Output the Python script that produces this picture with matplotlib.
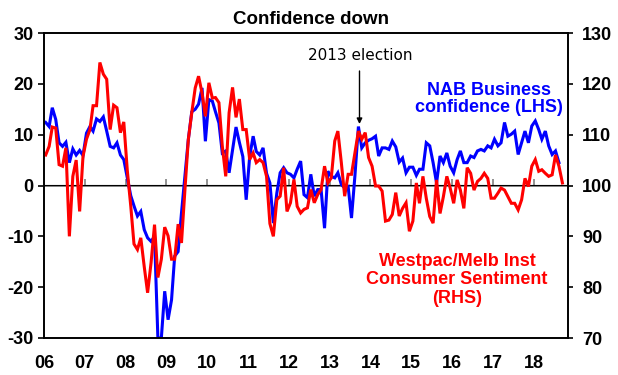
import matplotlib
matplotlib.use("Agg")
import matplotlib.pyplot as plt
import numpy as np
import pandas as pd

plt.rcParams['font.family'] = ['Liberation Sans', 'DejaVu Sans']

# NAB Business confidence (LHS), monthly from Jan 2006
nab = [12.4, 11.6, 15.3, 13, 8.4, 7.7, 8.5, 4.5, 7.2, 6, 6.9, 5.9,
       10.3, 11.6, 10.7, 13.1, 12.6, 13.5, 10.7, 7.7, 7.4, 8.4, 6, 5.1,
       1.5, -2, -4, -6, -5.1, -8.7, -10.3, -11, -10, -30, -30, -20.8,
       -26.4, -22.5, -13.9, -13, -5.4, 2, 9, 14.5, 15, 16, 19.2, 8.7,
       16.9, 16.6, 14.5, 12.3, 6.4, 6.8, 2.5, 7, 11.5, 8.5, 5.7, -2.8,
       5.7, 9.7, 6.7, 6, 7.4, 2.4, 0.5, -7.4, -1.5, 2.5, 3.5, 2.5,
       2.2, 1.5, 3.2, 4.8, -1.8, -2.4, 2.2, -2.1, -0.8, -0.8, -8.4, 2.8,
       1.8, 1.5, 2.5, 0.2, -0.5, -0.2, -6.4, 2, 11.6, 7.4, 8.4, 8.9,
       9.2, 9.7, 5.8, 7.4, 7.4, 7.1, 8.75, 7.6, 4.6, 5.4, 2.5, 3.6,
       3.6, 2.0, 3.2, 3.2, 8.4, 7.8, 4.5, 0.5, 5.8, 4.5, 6.4, 3.8,
       2.5, 5.1, 6.8, 4.5, 4.5, 5.8, 5.5, 6.8, 7.1, 6.8, 7.8, 7.4,
       9.1, 7.8, 8.4, 12.4, 9.7, 10.1, 10.7, 6.1, 8.4, 10.7, 8.4, 11.7,
       12.7, 11, 9.1, 10.7, 7.8, 6.1, 6.8, 4.5]

# Westpac/Melbourne Institute Consumer Sentiment (RHS), monthly from Jan 2006
wbc = [106, 107.7, 111.5, 111.3, 104.1, 103.8, 107.4, 90, 101.8, 105, 94.9, 105.7,
       109.1, 111, 115.7, 115.7, 124.2, 121.9, 120.9, 111, 115.8, 115.3, 110.4, 112.5,
       103, 96, 88.5, 87.4, 89.7, 84, 78.9, 84.8, 92.3, 81.9, 85.5, 91.8,
       90.1, 85.5, 85.5, 92.4, 88.7, 99.2, 109, 114.3, 119.2, 121.5, 118.2, 113.6,
       120.2, 117.2, 117.3, 116.3, 107.8, 101.8, 114.3, 119.3, 113.4, 117, 111, 111,
       105.1, 106.4, 104.5, 105.1, 104.5, 101.8, 92.5, 90, 97.2, 97.9, 103.5, 94.9,
       96.6, 101.2, 95.9, 94.6, 95.3, 95.6, 99.2, 96.6, 98.2, 99.2, 103.8, 100.5,
       101.5, 108.75, 110.7, 104.5, 97.9, 102.2, 102.2, 106.4, 110.7, 109.1, 110.4, 105.5,
       103.8, 99.9, 99.9, 98.9, 93, 93.2, 94.3, 98.6, 94, 95.5, 96.6, 91,
       93, 100.5, 96.5, 101.8, 97.5, 93.9, 92.6, 101.1, 94.5, 97.8, 101.8, 99.5,
       96.5, 101.1, 99.1, 95.5, 103.5, 102.4, 99.1, 100.8, 101.4, 102.4, 101.4, 97.5,
       97.5, 98.5, 99.5, 99.1, 97.8, 96.5, 96.5, 95.2, 97.2, 101.4, 99.8, 103.8,
       105.1, 102.8, 103.1, 102.4, 101.8, 102.1, 106, 103.8, 100.5]

year_ticks = list(range(2006, 2019))
year_labels = [f"{y % 100:02d}" for y in year_ticks]
lhs_ticks = [-30, -20, -10, 0, 10, 20, 30]
rhs_ticks = [70, 80, 90, 100, 110, 120, 130]

def to_year(n):
    d = pd.date_range("2006-01-01", periods=n, freq="MS") + pd.Timedelta(days=15)
    return d.year + (d.dayofyear - 1) / 365.25

x_nab = to_year(len(nab))
x_wbc = to_year(len(wbc))

W, H = 618, 375
fig = plt.figure(figsize=(W / 100, H / 100), dpi=100)
L, R, T, B = 44, 568, 33, 338
ax = fig.add_axes([L / W, 1 - B / H, (R - L) / W, (B - T) / H])
ax2 = ax.twinx()

ax.plot(x_nab, nab, color="#0000FF", lw=2.2, solid_joinstyle="miter")
ax2.plot(x_wbc, wbc, color="#FF0000", lw=2.2, solid_joinstyle="miter")

xmax = 2006 + (R - L) / 40.8
ax.set_xlim(2006, xmax)
ax.set_ylim(-30, 30)
ax2.set_ylim(70, 130)
ax.set_yticks(lhs_ticks)
ax2.set_yticks(rhs_ticks)

tick_font = dict(fontsize=13, fontweight="bold")
ax.set_xticks(year_ticks)
ax.set_xticklabels(year_labels, **tick_font)
ax.tick_params(axis="x", length=0, pad=12)
ax.set_yticklabels([str(v) for v in lhs_ticks], **tick_font)
ax2.set_yticklabels([str(v) for v in rhs_ticks], **tick_font)
ax.tick_params(axis="y", length=4.5, width=1.2, direction="out", pad=3)
ax2.tick_params(axis="y", length=3.6, width=1.2, direction="out", pad=6.5)

for a in (ax, ax2):
    for s in a.spines.values():
        s.set_linewidth(1.2)
        s.set_color("black")

# zero line with year ticks
ax.axhline(0, color="#808080", lw=1.3, zorder=0)
sec = ax.secondary_xaxis(0.5)
sec.set_xticks(year_ticks[1:])
sec.set_xticklabels([])
sec.tick_params(axis="x", length=4, width=1.2, color="#808080", direction="out")
sec.spines["bottom"].set_visible(False)

def fx(px):
    return (px - L) / (R - L)

def fy(py):
    return (B - py) / (B - T)

fig.text(311 / W, 1 - 19 / H, "Confidence down", ha="center", va="center",
         fontsize=13.5, fontweight="bold")

ax.text(fx(489), fy(99), "NAB Business\nconfidence (LHS)", transform=ax.transAxes,
        ha="center", va="center", multialignment="center", color="#0000FF",
        fontsize=13, fontweight="bold", linespacing=1.05)

ax.text(fx(457), fy(280), "Westpac/Melb Inst\nConsumer Sentiment\n(RHS)",
        transform=ax.transAxes, ha="center", va="center", multialignment="center",
        color="#FF0000", fontsize=13, fontweight="bold", linespacing=1.1)

ax.text(fx(360), fy(56), "2013 election", transform=ax.transAxes, ha="center",
        va="center", fontsize=11, family=["DejaVu Sans"])
ax.annotate("", xy=(fx(359.5), fy(124)), xytext=(fx(359.5), fy(71)),
            xycoords="axes fraction", textcoords="axes fraction",
            arrowprops=dict(arrowstyle="-|>", color="black", lw=1.0,
                            mutation_scale=8, shrinkA=0, shrinkB=0))

fig.savefig("out.png", dpi=100)
